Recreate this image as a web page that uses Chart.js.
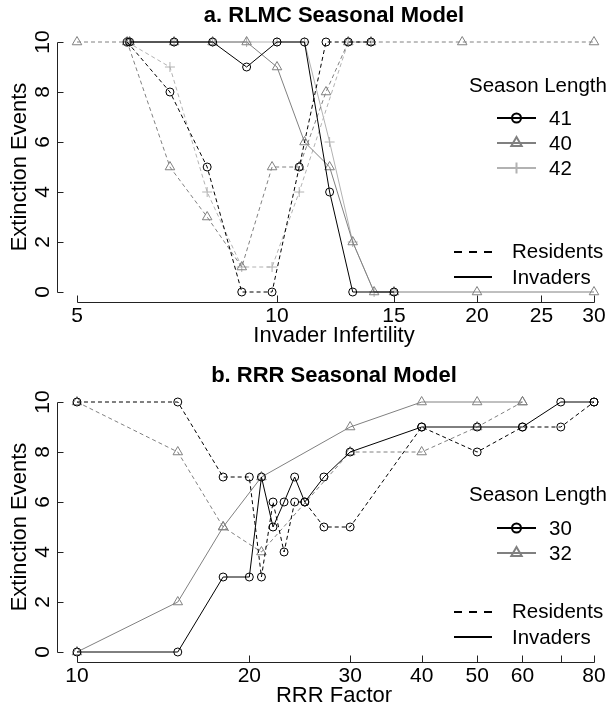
<!DOCTYPE html>
<html>
<head>
<meta charset="utf-8">
<script src="https://cdn.jsdelivr.net/npm/chart.js@4.4.1/dist/chart.umd.min.js"></script>
<style>
  html, body { margin: 0; padding: 0; background: #fff; }
  #wrap { position: relative; width: 611px; height: 710px; }
  .panel { position: absolute; left: 0; width: 611px; height: 350px; }
  #panelA { top: 0; }
  #panelB { top: 360px; }
</style>
</head>
<body>
<div id="wrap">
  <div class="panel" id="panelA"><canvas id="chartA"></canvas></div>
  <div class="panel" id="panelB"><canvas id="chartB"></canvas></div>
</div>
<script>
// ===== a. RLMC Seasonal Model =====
const rlmcTicks = [5, 10, 15, 20, 25, 30];
const rlmcTickLabels = ["5", "10", "15", "20", "25", "30"];
// residents are plotted a hair left of the invader points
const res41X = [5.95, 6.9, 7.85, 8.85, 9.83, 10.8, 11.85, 12.8, 13.85];
const res41Y = [10, 8, 5, 0, 0, 5, 10, 10, 10];
const res40X = [5, 5.95, 6.9, 7.85, 8.85, 9.83, 10.8, 11.85, 12.8, 13.85, 19, 30];
const res40Y = [10, 10, 5, 3, 1, 5, 5, 8, 10, 10, 10, 10];
const res42X = [5.95, 6.9, 7.85, 8.85, 9.83, 10.8, 12.8, 13.85];
const res42Y = [10, 9, 4, 1, 1, 4, 10, 10];
const inv41X = [6, 7, 8, 9, 10, 11, 12, 13, 15];
const inv41Y = [10, 10, 10, 9, 10, 10, 4, 0, 0];
const inv40X = [6, 7, 8, 9, 10, 11, 12, 13, 14, 15, 20, 30];
const inv40Y = [10, 10, 10, 10, 9, 6, 5, 2, 0, 0, 0, 0];
const inv42X = [6, 7, 8, 9, 10, 11, 12, 13, 14, 15];
const inv42Y = [10, 10, 10, 10, 10, 10, 6, 2, 0, 0];

// ===== b. RRR Seasonal Model =====
const rrrTicks = [10, 20, 30, 40, 50, 60, 70, 80];
const rrrTickLabels = ["10", "20", "30", "40", "50", "60", "", "80"];
const rrrX30 = [10, 15, 18, 20, 21, 22, 23, 24, 25, 27, 30, 40, 50, 60, 70, 80];
const res30Y = [10, 10, 7, 7, 3, 6, 4, 6, 6, 5, 5, 9, 8, 9, 9, 10];
const inv30Y = [0, 0, 3, 3, 7, 5, 6, 7, 6, 7, 8, 9, 9, 9, 10, 10];
const rrrX32 = [10, 15, 18, 21, 30, 40, 50, 60];
const res32Y = [10, 8, 5, 4, 8, 8, 9, 10];
const inv32Y = [0, 2, 5, 7, 9, 10, 10, 10];

const yTicks = [0, 2, 4, 6, 8, 10];

// styles
const FONT = "'Liberation Sans', Arial, Helvetica, sans-serif";
const BLACK = "#000000", GRAY = "#808080", LIGHT = "#b2b2b2";
const RADIUS = { circle: 4, triangle: 5.5, cross: 5 };

Chart.defaults.font.family = FONT;
Chart.defaults.color = "#000";

function series(xs, ys, label, color, style, dashed) {
  return {
    label: label,
    data: xs.map((x, i) => ({ x: x, y: ys[i] })),
    borderColor: color,
    borderWidth: 1,
    borderDash: dashed ? [4, 3] : [],
    pointStyle: style,
    pointRadius: RADIUS[style],
    pointBorderColor: color,
    pointBackgroundColor: "rgba(0,0,0,0)",
    pointBorderWidth: 1,
    tension: 0,
    fill: false
  };
}

// little marker painter for the legend
function marker(ctx, style, x, y, r) {
  ctx.beginPath();
  if (style === "circle") {
    ctx.arc(x, y, r, 0, Math.PI * 2);
  } else if (style === "triangle") {
    for (let k = 0; k < 3; k++) {
      const a = k * 2 * Math.PI / 3;
      const px = x + Math.sin(a) * r, py = y - Math.cos(a) * r;
      k ? ctx.lineTo(px, py) : ctx.moveTo(px, py);
    }
    ctx.closePath();
  } else {
    ctx.moveTo(x - r, y); ctx.lineTo(x + r, y);
    ctx.moveTo(x, y - r); ctx.lineTo(x, y + r);
  }
  ctx.stroke();
}

// R-style axes: line from first to last tick, ticks pointing inward
function drawAxes(chart) {
  const ctx = chart.ctx;
  const sx = chart.scales.x, sy = chart.scales.y;
  const xs = sx.ticks.map(t => Math.round(sx.getPixelForValue(t.value)) + 0.5);
  const ys = sy.ticks.map(t => Math.round(sy.getPixelForValue(t.value)) + 0.5);
  const bottom = Math.round(chart.chartArea.bottom) + 0.5;
  const left = Math.round(chart.chartArea.left) + 0.5;
  ctx.save();
  ctx.setLineDash([]);
  ctx.strokeStyle = "#222222";
  ctx.lineWidth = 1;
  ctx.beginPath();
  ctx.moveTo(xs[0], bottom);
  ctx.lineTo(xs[xs.length - 1], bottom);
  for (const px of xs) { ctx.moveTo(px, bottom); ctx.lineTo(px, bottom - 7); }
  ctx.moveTo(left, ys[0]);
  ctx.lineTo(left, ys[ys.length - 1]);
  for (const py of ys) { ctx.moveTo(left, py); ctx.lineTo(left + 6, py); }
  ctx.stroke();
  ctx.restore();
}

// the two legend blocks drawn inside the plot, as in the original
function drawLegend(chart, opts) {
  const ctx = chart.ctx;
  ctx.save();
  ctx.font = "20.5px " + FONT;
  ctx.fillStyle = "#000";
  ctx.textBaseline = "middle";
  ctx.textAlign = "left";
  ctx.fillText("Season Length", 469, opts.titleY);
  opts.seasons.forEach((s, i) => {
    const y = opts.rows[i];
    ctx.strokeStyle = s.color;
    ctx.lineWidth = 2;
    ctx.setLineDash([]);
    ctx.beginPath(); ctx.moveTo(497, y); ctx.lineTo(536, y); ctx.stroke();
    marker(ctx, s.style, 516.5, y, RADIUS[s.style] + 0.5);
    ctx.fillText(s.label, 549, y + 1);
  });
  ctx.strokeStyle = "#000";
  ctx.lineWidth = 2;
  ctx.setLineDash([8, 7]);
  ctx.beginPath(); ctx.moveTo(454, opts.resY); ctx.lineTo(492, opts.resY); ctx.stroke();
  ctx.setLineDash([]);
  ctx.beginPath(); ctx.moveTo(454, opts.invY); ctx.lineTo(492, opts.invY); ctx.stroke();
  ctx.fillText("Residents", 512, opts.resY);
  ctx.fillText("Invaders", 512, opts.invY + 1);
  ctx.restore();
}

const rDecor = {
  id: "rDecor",
  afterDatasetsDraw(chart, args, opts) {
    drawAxes(chart);
    if (opts && opts.seasons) drawLegend(chart, opts);
  }
};

function panelOptions(cfg) {
  return {
    responsive: true,
    maintainAspectRatio: false,
    animation: false,
    events: [],
    layout: { padding: 0, autoPadding: false },
    plugins: {
      legend: { display: false },
      tooltip: { enabled: false },
      title: {
        display: true, text: cfg.title, fullSize: false, color: "#000",
        font: { size: 22, weight: "bold" }, padding: { top: 3, bottom: 2.6 }
      },
      rDecor: cfg.legend
    },
    scales: {
      x: {
        type: "logarithmic", min: cfg.xMin, max: cfg.xMax,
        afterBuildTicks: s => { s.ticks = cfg.xTicks.map(v => ({ value: v })); },
        afterFit: s => { s.height = 48; },
        grid: { display: false, drawTicks: false },
        border: { display: false },
        ticks: {
          autoSkip: false, maxRotation: 0, padding: 1.5, color: "#000",
          font: { size: 21 },
          callback: (v, i) => cfg.xLabels[i]
        },
        title: { display: true, text: cfg.xTitle, color: "#000", font: { size: 22 }, padding: { top: 0, bottom: 1 } }
      },
      y: {
        type: "linear", min: -0.4, max: 10.4,
        afterBuildTicks: s => { s.ticks = yTicks.map(v => ({ value: v })); },
        afterFit: s => { s.width = 57; },
        grid: { display: false, drawTicks: false },
        border: { display: false },
        ticks: {
          minRotation: 90, maxRotation: 90, crossAlign: "center", padding: 2,
          color: "#000", font: { size: 21 },
          callback: v => String(v)
        },
        title: { display: true, text: "Extinction Events", color: "#000", font: { size: 22 }, padding: { top: 7, bottom: 0 } }
      }
    }
  };
}

// ---- panel a ----
new Chart(document.getElementById("chartA"), {
  type: "line",
  data: {
    datasets: [
      series(inv41X, inv41Y, "41 Invaders", BLACK, "circle", false),
      series(res41X, res41Y, "41 Residents", BLACK, "circle", true),
      series(inv40X, inv40Y, "40 Invaders", GRAY, "triangle", false),
      series(res40X, res40Y, "40 Residents", GRAY, "triangle", true),
      series(inv42X, inv42Y, "42 Invaders", LIGHT, "cross", false),
      series(res42X, res42Y, "42 Residents", LIGHT, "cross", true)
    ]
  },
  options: panelOptions({
    title: "a. RLMC Seasonal Model",
    xTitle: "Invader Infertility",
    xMin: 4.665, xMax: 31.82,
    xTicks: rlmcTicks, xLabels: rlmcTickLabels,
    legend: {
      titleY: 86, rows: [118, 143, 168], resY: 252, invY: 277,
      seasons: [
        { label: "41", color: BLACK, style: "circle" },
        { label: "40", color: GRAY, style: "triangle" },
        { label: "42", color: LIGHT, style: "cross" }
      ]
    }
  }),
  plugins: [rDecor]
});

// ---- panel b ----
new Chart(document.getElementById("chartB"), {
  type: "line",
  data: {
    datasets: [
      series(rrrX30, inv30Y, "30 Invaders", BLACK, "circle", false),
      series(rrrX30, res30Y, "30 Residents", BLACK, "circle", true),
      series(rrrX32, inv32Y, "32 Invaders", GRAY, "triangle", false),
      series(rrrX32, res32Y, "32 Residents", GRAY, "triangle", true)
    ]
  },
  options: panelOptions({
    title: "b. RRR Seasonal Model",
    xTitle: "RRR Factor",
    xMin: 9.228, xMax: 85.66,
    xTicks: rrrTicks, xLabels: rrrTickLabels,
    legend: {
      titleY: 135, rows: [168, 193], resY: 252, invY: 277,
      seasons: [
        { label: "30", color: BLACK, style: "circle" },
        { label: "32", color: GRAY, style: "triangle" }
      ]
    }
  }),
  plugins: [rDecor]
});
</script>
</body>
</html>
